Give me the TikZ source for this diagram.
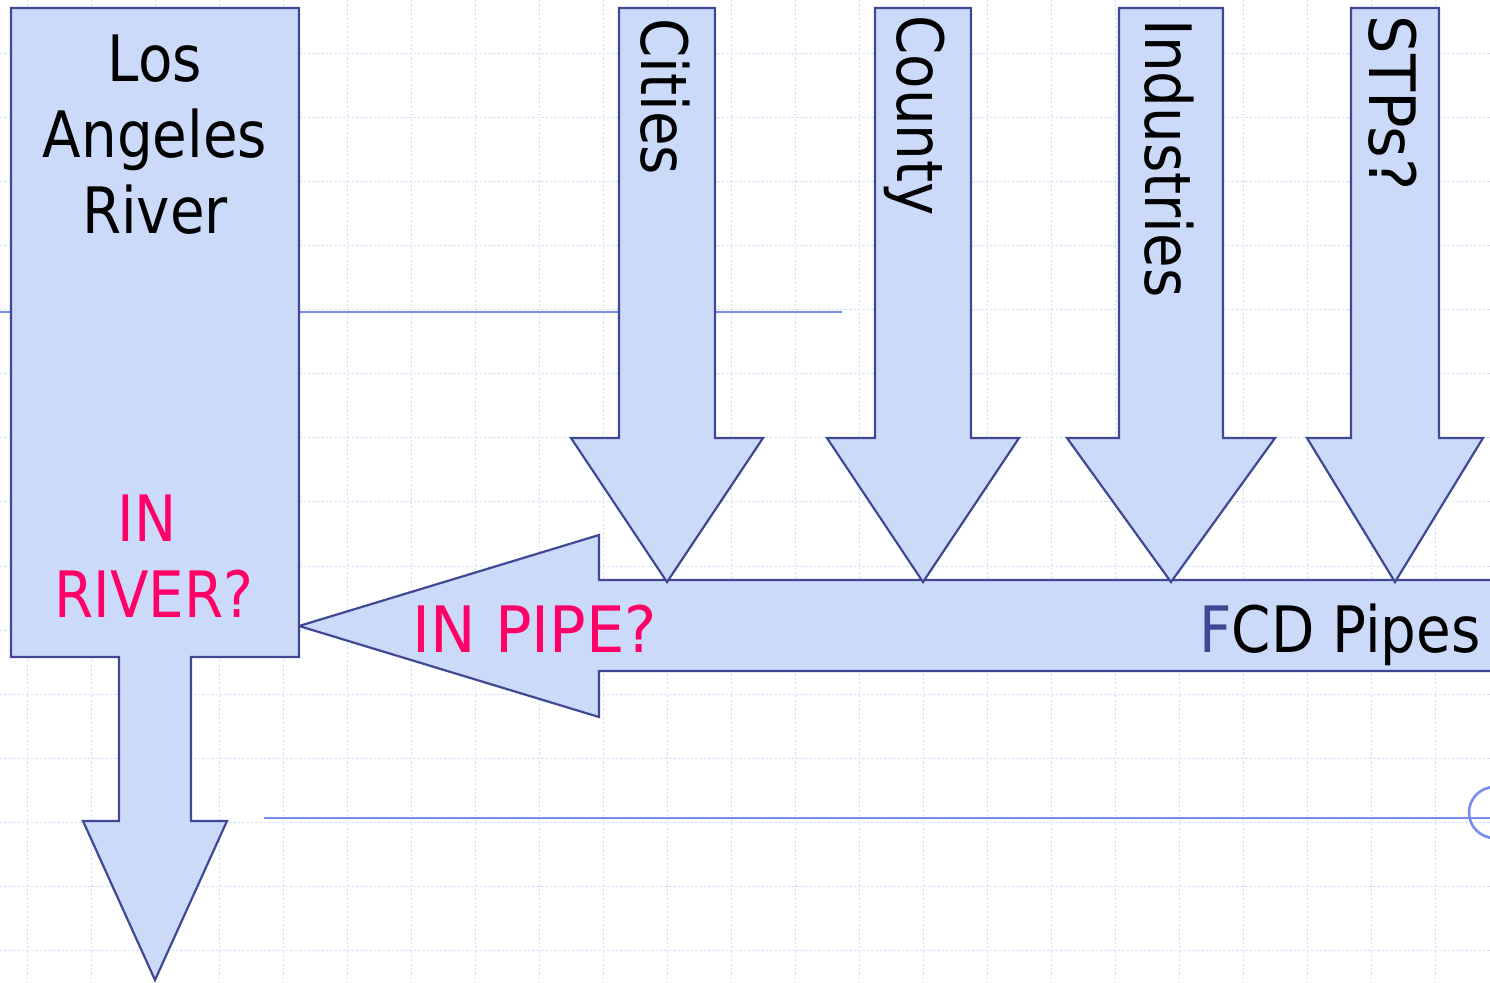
\documentclass[tikz,border=0pt]{standalone}
\usepackage{fontspec}
\setmainfont{DejaVu Sans}[FakeStretch=0.88]
\newfontfamily\capsf{DejaVu Sans}[FakeStretch=0.95]
\definecolor{shfill}{RGB}{204,218,250}
\definecolor{shline}{RGB}{64,72,148}
\definecolor{gridc}{RGB}{212,222,252}
\definecolor{decoc}{RGB}{118,140,240}
\definecolor{magc}{RGB}{255,0,102}
\tikzset{
  shapebox/.style={fill=shfill, draw=shline, line width=1.1pt, line join=miter},
  gridline/.style={draw=gridc, line width=0.5pt, dash pattern=on 1.2pt off 1pt},
  decoline/.style={draw=decoc, line width=1.3pt},
  bigtxt/.style={inner sep=0pt, font=\fontsize{32}{38}\selectfont},
  magtxt/.style={bigtxt, text=magc},
  vtxt/.style={bigtxt, rotate=-90, anchor=base west}
}
\begin{document}
\begin{tikzpicture}[x=0.5pt, y=-0.5pt]
\useasboundingbox (0,0) rectangle (1490,982);
\clip (0,0) rectangle (1490,982);
% background grid
\foreach \k in {0,...,23} {\draw[gridline] ({27+64*\k},0) -- ({27+64*\k},982);}
\foreach \k in {0,...,14} {\draw[gridline] (0,{53+64.14*\k}) -- (1490,{53+64.14*\k});}
% decorative template lines
\coordinate (d1a) at (0,312); \coordinate (d1b) at (842,312);
\coordinate (d2a) at (264,818); \coordinate (d2b) at (1490,818);
\draw[decoline] (d1a) -- (d1b);
\draw[decoline] (d2a) -- (d2b);
\draw[decoline] (1494.5,812.5) circle (25.5);
% FCD pipe arrow (pointing left)
\draw[shapebox] (1500,580) -- (599,580) -- (599,535) -- (299,626) -- (599,717) -- (599,671) -- (1500,671) -- cycle;
% Los Angeles River box with down arrow
\draw[shapebox] (11,8) -- (299,8) -- (299,657) -- (191,657) -- (191,821) -- (227,821) -- (155,980) -- (83,821) -- (119,821) -- (119,657) -- (11,657) -- cycle;
% down arrows
\draw[shapebox] (619,8) -- (715,8) -- (715,438) -- (763,438) -- (667,582) -- (571,438) -- (619,438) -- cycle;
\draw[shapebox] (875,8) -- (971,8) -- (971,438) -- (1019,438) -- (923,582) -- (827,438) -- (875,438) -- cycle;
\draw[shapebox] (1119,8) -- (1223,8) -- (1223,438) -- (1275,438) -- (1171,582) -- (1067,438) -- (1119,438) -- cycle;
\draw[shapebox] (1351,8) -- (1439,8) -- (1439,438) -- (1483,438) -- (1395,582) -- (1307,438) -- (1351,438) -- cycle;
% texts
\node[bigtxt, anchor=base] (los) at (155,81) {Los};
\node[bigtxt, anchor=base] (ang) at (155,157) {Angeles};
\node[bigtxt, anchor=base] (riv) at (155,233) {River};
\node[magtxt, anchor=base] (in1) at (147,541) {IN};
\node[magtxt, anchor=base] (inr) at (154,617) {RIVER?};
\node[magtxt, anchor=base west, font=\capsf\fontsize{32}{38}\selectfont] (inp) at (412,652) {IN PIPE?};
\node[bigtxt, anchor=base east] (fcd) at (1481,652) {{\color{shline}F}CD Pipes};
\node[vtxt] (cit) at (641,18) {Cities};
\node[vtxt] (cou) at (897,15) {County};
\node[vtxt] (ind) at (1145,19) {Industries};
\node[vtxt, font=\capsf\fontsize{32}{38}\selectfont] (stp) at (1369,15) {STPs?};
\end{tikzpicture}
\end{document}
